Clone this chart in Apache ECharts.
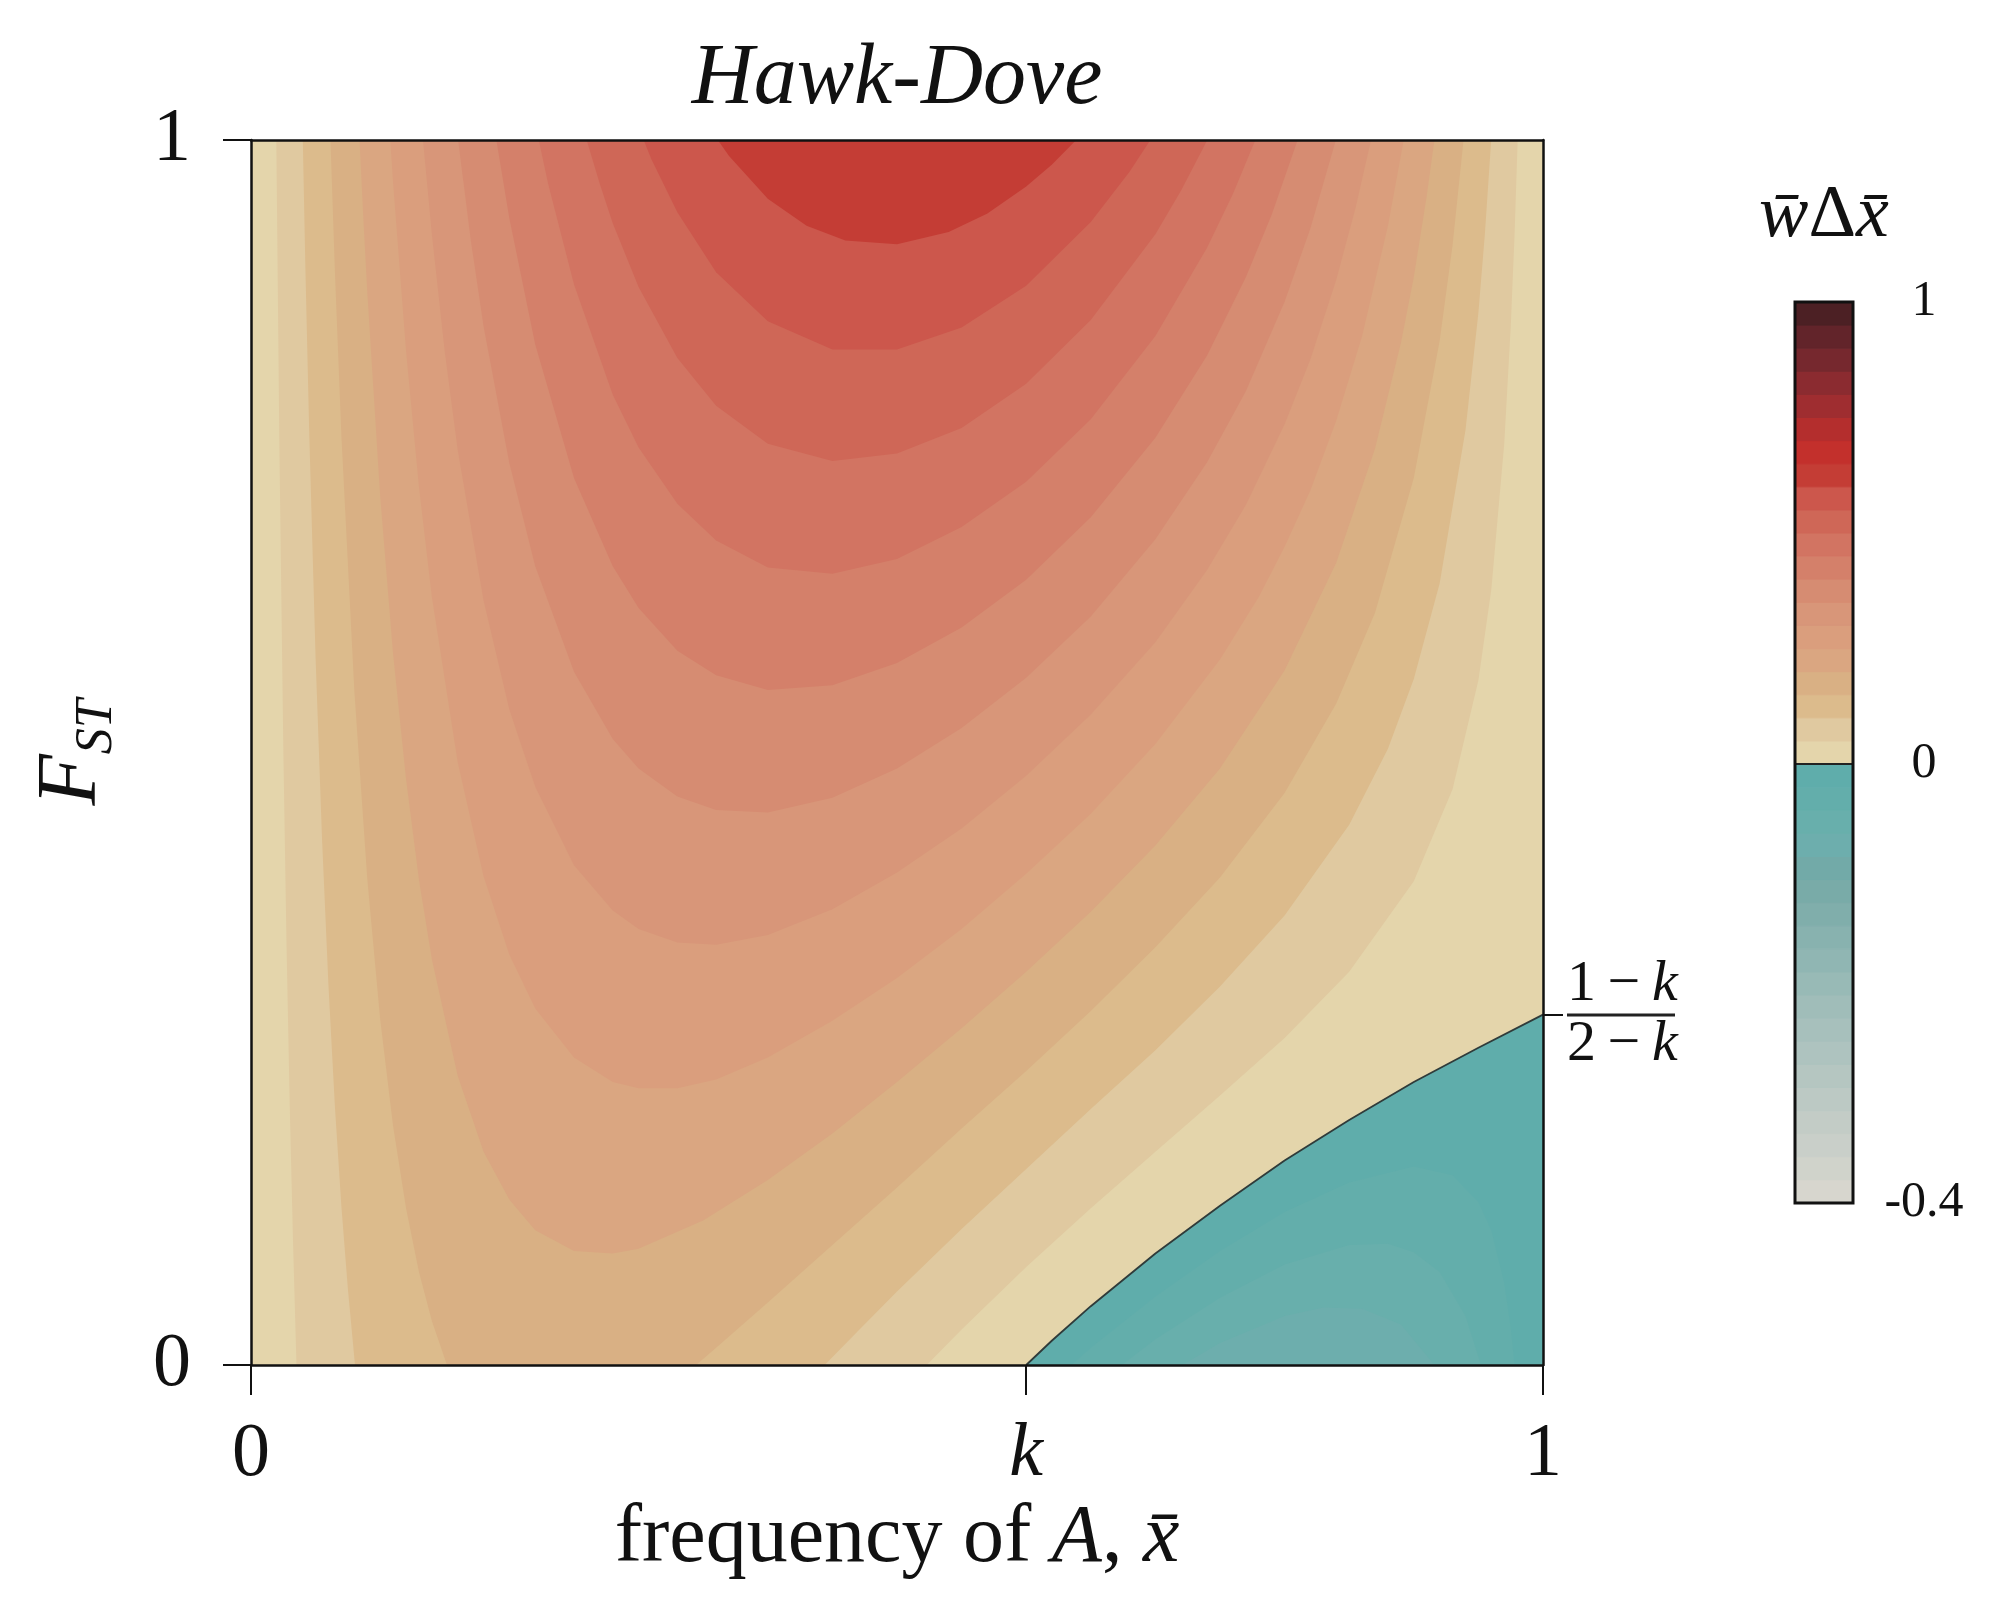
<!DOCTYPE html>
<html>
<head>
<meta charset="utf-8">
<script src="https://cdn.jsdelivr.net/npm/echarts@6/dist/echarts.min.js"></script>
<style>html,body{margin:0;padding:0;background:#fff}#c{width:2000px;height:1615px}</style>
</head>
<body>
<div id="c"></div>
<script>
// ---------- tick values / labels ----------
const xTickValues = [0, 0.6, 1];
const xTickLabels = ['0', 'k', '1'];
const yTickValues = [0, 1];
const yTickLabels = ['0', '1'];
const rightTickValues = [0.2857];            // (1-k)/(2-k) with k = 0.6
const cbTickValues = [0, 19, 39];            // colorbar band index positions
const cbTickLabels = ['-0.4', '0', '1'];

// ---------- band colours ----------
// positive bands, lower bound 0, 0.05, ... 0.95
const posColors = ['#e4d5ab','#e0c9a0','#dcbb8c','#d9b084','#daa681','#da9e7d','#d89679','#d68c72',
                   '#d4806a','#d27462','#cf6757','#cc574c','#c43d35','#c3302c','#b42e2d','#9f2d30',
                   '#8b2b30','#76282e','#62242a','#4c2024'];
// negative bands, from 0 downward to -0.4
const negColors = ['#5fadab','#63aeab','#68afac','#6daead','#72aaa8','#79aba8','#80aeab','#88b2af',
                   '#90b6b3','#98bab6','#a0bdb9','#a7c0bc','#aec3bf','#b5c6c1','#bcc9c4','#c3ccc6',
                   '#c9cfc9','#d0d3cb','#d7d6ce'];

// ---------- contour lines [x, F_ST] ----------
const lvZero = [[0.6,0],[0.62,0.020],[0.65,0.048],[0.70,0.091],[0.75,0.130],[0.80,0.167],[0.85,0.200],[0.90,0.231],[0.95,0.259],[1.0,0.286]];
const lvNeg1 = [[0.635,0],[0.65,0.014],[0.70,0.056],[0.75,0.093],[0.80,0.125],[0.85,0.149],[0.90,0.162],[0.93,0.155],[0.95,0.133],[0.96,0.110],[0.97,0.067],[0.975,0.031],[0.978,0]];
const lvNeg2 = [[0.674,0],[0.70,0.021],[0.75,0.055],[0.80,0.082],[0.85,0.098],[0.88,0.099],[0.90,0.092],[0.92,0.076],[0.94,0.040],[0.952,0]];
const lvNeg3 = [[0.721,0],[0.75,0.018],[0.80,0.040],[0.83,0.047],[0.86,0.046],[0.89,0.033],[0.916,0]];

const lv005 = [[0.0196,1],[0.022,0.748],[0.025,0.504],[0.0275,0.343],[0.030,0.211],[0.0325,0.102],[0.0352,0],
  [0.523,0],[0.55,0.029],[0.60,0.080],[0.65,0.128],[0.70,0.174],[0.75,0.220],[0.80,0.267],[0.85,0.321],[0.90,0.395],
  [0.93,0.470],[0.95,0.559],[0.96,0.633],[0.97,0.752],[0.975,0.847],[0.978,0.923],[0.9804,1]];
const lv010 = [[0.0401,1],[0.042,0.900],[0.045,0.764],[0.05,0.577],[0.055,0.429],[0.06,0.309],[0.065,0.210],[0.07,0.129],[0.075,0.062],[0.0805,0],
  [0.444,0],[0.47,0.028],[0.50,0.060],[0.55,0.111],[0.60,0.160],[0.65,0.209],[0.70,0.257],[0.75,0.309],[0.80,0.367],[0.85,0.441],
  [0.88,0.503],[0.90,0.560],[0.92,0.638],[0.94,0.763],[0.95,0.859],[0.955,0.923],[0.9599,1]];
const lv015 = [[0.0615,1],[0.065,0.891],[0.07,0.758],[0.08,0.550],[0.09,0.397],[0.10,0.282],[0.11,0.195],[0.12,0.128],[0.13,0.076],[0.14,0.036],[0.1517,0],
  [0.3445,0],[0.36,0.014],[0.40,0.051],[0.45,0.098],[0.50,0.145],[0.55,0.193],[0.60,0.240],[0.65,0.289],[0.70,0.341],[0.75,0.398],
  [0.80,0.467],[0.84,0.540],[0.87,0.614],[0.90,0.724],[0.92,0.836],[0.93,0.914],[0.9385,1]];
const lv020 = [[0.084,1],[0.087,0.935],[0.09,0.876],[0.10,0.709],[0.11,0.580],[0.12,0.478],[0.13,0.396],[0.14,0.331],[0.16,0.236],[0.18,0.174],
  [0.20,0.135],[0.22,0.110],[0.25,0.093],[0.28,0.091],[0.30,0.095],[0.35,0.118],[0.40,0.151],[0.45,0.189],[0.50,0.231],[0.55,0.275],
  [0.60,0.321],[0.65,0.370],[0.70,0.424],[0.75,0.487],[0.80,0.567],[0.84,0.655],[0.87,0.748],[0.89,0.834],[0.90,0.888],[0.91,0.954],[0.916,1]];
const lv025 = [[0.1078,1],[0.11,0.965],[0.12,0.828],[0.13,0.717],[0.14,0.627],[0.16,0.492],[0.18,0.399],[0.20,0.335],[0.22,0.291],[0.25,0.251],
  [0.28,0.231],[0.30,0.226],[0.33,0.226],[0.36,0.233],[0.40,0.251],[0.45,0.281],[0.50,0.316],[0.55,0.356],[0.60,0.401],[0.65,0.450],
  [0.70,0.507],[0.75,0.576],[0.78,0.627],[0.80,0.668],[0.82,0.714],[0.84,0.771],[0.86,0.840],[0.88,0.930],[0.8922,1]];
const lv030 = [[0.1331,1],[0.14,0.923],[0.15,0.827],[0.16,0.747],[0.18,0.624],[0.20,0.535],[0.22,0.472],[0.25,0.408],[0.28,0.371],[0.30,0.356],
  [0.33,0.345],[0.36,0.343],[0.40,0.351],[0.45,0.372],[0.50,0.402],[0.55,0.438],[0.60,0.481],[0.65,0.531],[0.70,0.590],[0.74,0.649],
  [0.77,0.702],[0.80,0.768],[0.82,0.821],[0.84,0.886],[0.855,0.945],[0.8669,1]];
const lv035 = [[0.1603,1],[0.17,0.919],[0.18,0.848],[0.20,0.736],[0.22,0.652],[0.25,0.566],[0.28,0.511],[0.30,0.487],[0.33,0.464],[0.36,0.453],
  [0.40,0.451],[0.45,0.463],[0.50,0.487],[0.55,0.520],[0.60,0.561],[0.65,0.611],[0.70,0.674],[0.74,0.737],[0.77,0.795],[0.80,0.868],[0.82,0.928],[0.8397,1]];
const lv040 = [[0.1899,1],[0.20,0.936],[0.22,0.833],[0.25,0.724],[0.28,0.652],[0.30,0.618],[0.33,0.583],[0.36,0.563],[0.40,0.551],[0.45,0.555],
  [0.50,0.573],[0.55,0.602],[0.60,0.641],[0.65,0.692],[0.70,0.757],[0.74,0.824],[0.77,0.888],[0.79,0.939],[0.8101,1]];
const lv045 = [[0.2227,1],[0.23,0.964],[0.25,0.882],[0.28,0.792],[0.30,0.749],[0.33,0.703],[0.36,0.673],[0.40,0.651],[0.45,0.646],[0.50,0.658],
  [0.55,0.684],[0.60,0.721],[0.65,0.772],[0.70,0.840],[0.74,0.912],[0.76,0.956],[0.7774,1]];
const lv050 = [[0.2598,1],[0.27,0.964],[0.28,0.932],[0.30,0.880],[0.33,0.822],[0.36,0.783],[0.40,0.752],[0.45,0.738],[0.50,0.744],[0.55,0.765],
  [0.60,0.801],[0.65,0.853],[0.70,0.923],[0.72,0.959],[0.7402,1]];
const lv055 = [[0.3039,1],[0.31,0.984],[0.33,0.941],[0.36,0.892],[0.40,0.852],[0.45,0.829],[0.50,0.829],[0.55,0.847],[0.60,0.881],[0.65,0.933],[0.68,0.974],[0.6961,1]];
const lv060 = [[0.3613,1],[0.37,0.987],[0.40,0.952],[0.43,0.930],[0.46,0.918],[0.50,0.915],[0.54,0.925],[0.57,0.940],[0.60,0.962],[0.62,0.980],[0.6387,1]];

const negLevels = [lvNeg1, lvNeg2, lvNeg3];
const posLevels = [lv005, lv010, lv015, lv020, lv025, lv030, lv035, lv040, lv045, lv050, lv055, lv060];

// ---------- chart ----------
const FONT = 'Liberation Serif';
const INK = '#111';
const chart = echarts.init(document.getElementById('c'), null, {renderer: 'canvas', width: 2000, height: 1615});

function fillSeries(data, color, origin) {
  return {
    type: 'line', xAxisIndex: 0, yAxisIndex: 0, data: data,
    symbol: 'none', showSymbol: false, silent: true, smooth: false, animation: false,
    lineStyle: {width: 0, opacity: 0},
    areaStyle: {color: color, opacity: 1, origin: origin},
    z: 2
  };
}

const series = [];
series.push(fillSeries(lvZero, negColors[0], 'start'));
negLevels.forEach((d, i) => series.push(fillSeries(d, negColors[i + 1], 'start')));
posLevels.forEach((d, i) => series.push(fillSeries(d, posColors[i + 1], 'end')));
series.push({
  type: 'line', xAxisIndex: 0, yAxisIndex: 0, data: lvZero, symbol: 'none', silent: true,
  animation: false, lineStyle: {color: '#2f3b3a', width: 1.8}, z: 3
});

// colorbar: bands from -0.4 (bottom) to 1 (top)
const cbColors = negColors.slice().reverse().concat(posColors);
series.push({
  type: 'custom', xAxisIndex: 2, yAxisIndex: 2, silent: true, animation: false,
  data: cbColors.map((c, i) => [0.5, i]),
  encode: {x: 0, y: 1},
  renderItem: function (params, api) {
    const i = api.value(1);
    const p0 = api.coord([0, i]);
    const p1 = api.coord([1, i + 1]);
    return {type: 'rect', shape: {x: p0[0], y: p1[1], width: p1[0] - p0[0], height: p0[1] - p1[1]},
            style: {fill: cbColors[i], stroke: cbColors[i], lineWidth: 1}};
  }
});
series.push({
  type: 'custom', xAxisIndex: 2, yAxisIndex: 2, silent: true, animation: false, z: 5,
  data: [[0, 0]],
  renderItem: function (params, api) {
    const p0 = api.coord([0, 0]);
    const p1 = api.coord([1, cbColors.length]);
    const zy = api.coord([0, negColors.length])[1];
    return {type: 'group', children: [
      {type: 'line', shape: {x1: p0[0], y1: zy, x2: p1[0], y2: zy}, style: {stroke: '#222', lineWidth: 2}},
      {type: 'rect', shape: {x: p0[0], y: p1[1], width: p1[0] - p0[0], height: p0[1] - p1[1]},
       style: {fill: 'none', stroke: INK, lineWidth: 3}}
    ]};
  }
});

function pick(vals, labels, v) {
  for (let i = 0; i < vals.length; i++) if (Math.abs(vals[i] - v) < 1e-6) return labels[i];
  return '';
}

const lineSty = {color: INK, width: 2.5};

const option = {
  animation: false,
  backgroundColor: '#fff',
  title: [
    {text: 'Hawk-Dove', left: 897, top: 37, padding: 0, textAlign: 'center',
     textStyle: {fontFamily: FONT, fontStyle: 'italic', fontWeight: 'normal', fontSize: 86, color: INK}},
    {text: '{i|w\u0304}{u|\u0394}{i|x\u0304}', left: 1824, top: 180, padding: 0, textAlign: 'center',
     textStyle: {fontFamily: FONT, fontSize: 74, color: INK, fontWeight: 'normal',
       rich: {i: {fontFamily: FONT, fontStyle: 'italic', fontSize: 74, color: INK},
              u: {fontFamily: FONT, fontSize: 74, color: INK}}}}
  ],
  grid: [
    {left: 251, top: 140, width: 1292, height: 1225, show: true, backgroundColor: posColors[0], borderWidth: 0,
     containLabel: false, outerBoundsMode: 'none'},
    {left: 1795, top: 302, width: 58, height: 901, show: false, containLabel: false, outerBoundsMode: 'none'}
  ],
  xAxis: [
    {type: 'value', gridIndex: 0, position: 'bottom', min: 0, max: 1, z: 10,
     axisLine: {show: true, onZero: false, lineStyle: lineSty},
     axisTick: {show: true, customValues: xTickValues, length: 30, lineStyle: {color: INK, width: 2}},
     axisLabel: {show: true, customValues: xTickValues, margin: 52, fontFamily: FONT, fontSize: 76, color: INK,
       formatter: v => { const t = pick(xTickValues, xTickLabels, v); return t === 'k' ? '{i|k}' : t; },
       rich: {i: {fontFamily: FONT, fontStyle: 'italic', fontSize: 76, color: INK}}},
     splitLine: {show: false},
     name: 'frequency of {i|A}, {i|x\u0304}', nameLocation: 'middle', nameGap: 133,
     nameTextStyle: {fontFamily: FONT, fontSize: 82, color: INK,
       rich: {i: {fontFamily: FONT, fontStyle: 'italic', fontSize: 82, color: INK}}}},
    {type: 'value', gridIndex: 0, position: 'top', min: 0, max: 1, z: 10,
     axisLine: {show: true, onZero: false, lineStyle: lineSty}, axisTick: {show: false}, axisLabel: {show: false}, splitLine: {show: false}},
    {type: 'value', gridIndex: 1, min: 0, max: 1, show: false}
  ],
  yAxis: [
    {type: 'value', gridIndex: 0, position: 'left', min: 0, max: 1, z: 10,
     axisLine: {show: true, onZero: false, lineStyle: lineSty},
     axisTick: {show: true, customValues: yTickValues, length: 28, lineStyle: {color: INK, width: 2}},
     axisLabel: {show: true, customValues: yTickValues, margin: 60, fontFamily: FONT, fontSize: 76, color: INK,
       formatter: v => pick(yTickValues, yTickLabels, v)},
     splitLine: {show: false},
     name: '{i|F}{s|ST}', nameLocation: 'middle', nameRotate: 90, nameGap: 136,
     nameTextStyle: {fontFamily: FONT, fontSize: 84, color: INK,
       rich: {i: {fontFamily: FONT, fontStyle: 'italic', fontSize: 84, lineHeight: 84, verticalAlign: 'top', color: INK},
              s: {fontFamily: FONT, fontStyle: 'italic', fontSize: 52, lineHeight: 52, verticalAlign: 'top', padding: [40, 0, 0, 0], color: INK}}}},
    {type: 'value', gridIndex: 0, position: 'right', min: 0, max: 1, z: 10,
     axisLine: {show: true, onZero: false, lineStyle: lineSty},
     axisTick: {show: true, customValues: rightTickValues, length: 20, lineStyle: {color: INK, width: 2}},
     axisLabel: {show: true, customValues: rightTickValues, margin: 24, align: 'left', fontFamily: FONT, fontSize: 58, color: INK,
       formatter: () => '{n|1\u2009\u2212\u2009}{k|k}\n{b|}\n{n|2\u2009\u2212\u2009}{k|k}',
       rich: {n: {fontFamily: FONT, fontSize: 58, lineHeight: 52, color: INK},
              k: {fontFamily: FONT, fontStyle: 'italic', fontSize: 58, lineHeight: 52, color: INK},
              b: {width: 108, height: 3, lineHeight: 8, backgroundColor: '#222'}}},
     splitLine: {show: false}},
    {type: 'value', gridIndex: 1, position: 'right', min: 0, max: cbColors.length,
     axisLine: {show: false, onZero: false}, axisTick: {show: false}, splitLine: {show: false},
     axisLabel: {show: true, customValues: cbTickValues, margin: 71, align: 'center', fontFamily: FONT, fontSize: 50, color: INK,
       formatter: v => pick(cbTickValues, cbTickLabels, v)}}
  ],
  series: series
};
chart.setOption(option);
</script>
</body>
</html>
